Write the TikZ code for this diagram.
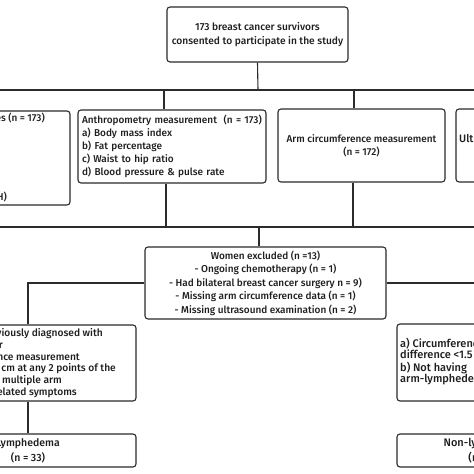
\documentclass[tikz,border=0pt]{standalone}
\usepackage{fontspec}
\IfFontExistsTF{Fira Sans Medium}{\setmainfont{Fira Sans Medium}}{\setmainfont{Liberation Sans}}
\definecolor{linec}{HTML}{2B2B2B}
\definecolor{txtc}{HTML}{1E1E1E}
\begin{document}
\begin{tikzpicture}[x=1pt,y=-1pt,
  box/.style={draw=linec, line width=1.1pt, rounded corners=3pt, inner sep=3pt, text=txtc, font=\fontsize{10}{13}\selectfont},
  txt/.style={inner sep=0pt, text=txtc, font=\fontsize{10}{13}\selectfont},
  crit/.style={inner sep=0pt, text=txtc, font=\fontsize{10.2}{12}\selectfont},
  conn/.style={draw=linec, line width=1.1pt}]
\fill[white] (0,0) rectangle (474,474);
\useasboundingbox (0,0) rectangle (474,474);
\clip (0,0) rectangle (474,474);

% boxes
\node[box, minimum width=181pt, minimum height=55pt, align=center, font=\fontsize{10.2}{14}\selectfont] (top) at (257.5,34.5) {173 breast cancer survivors\\consented to participate in the study};

\node[box, minimum width=200pt, minimum height=94pt] (quest) at (-30,158) {};
\node[txt, anchor=mid east] (q1) at (45,119) {Questionnaires (n = 173)};
\node[txt, anchor=mid east] (q2) at (7,198) {(IPAQ-SH)};

\node[box, minimum width=188pt, minimum height=73pt, text width=180pt, align=left] (anthro) at (172,146.5) {Anthropometry measurement~~(n = 173)\\a) Body mass index\\b) Fat percentage\\c) Waist to hip ratio\\d) Blood pressure \& pulse rate};

\node[box, minimum width=167pt, minimum height=73pt, align=center] (arm) at (361.5,145.5) {Arm circumference measurement\\(n = 172)};

\node[box, minimum width=167pt, minimum height=73pt] (ultra) at (539.5,145.5) {};
\node[txt, anchor=mid west, font=\fontsize{10.8}{13}\selectfont] (ut) at (459,140) {Ultrasound examination};

\node[box, minimum width=241pt, minimum height=72pt, align=center, font=\fontsize{10}{13.5}\selectfont] (excl) at (265.5,283) {Women excluded (n =13)\\- Ongoing chemotherapy (n = 1)\\- Had bilateral breast cancer surgery n = 9)\\- Missing arm circumference data (n = 1)\\- Missing ultrasound examination (n = 2)};

\node[box, minimum width=216pt, minimum height=76pt] (lcrit) at (28,363) {};
\node[crit, anchor=mid east] (l1) at (103,334) {a) Previously diagnosed with};
\node[crit, anchor=mid east] (l2) at (3,346) {lymphedema or};
\node[crit, anchor=mid east] (l3) at (80,357.5) {b) Circumference measurement};
\node[crit, anchor=mid east] (l4) at (116,369) {difference of 2 cm at any 2 points of the};
\node[crit, anchor=mid east] (l5) at (62,381) {arm and having multiple arm};
\node[crit, anchor=mid east] (l6) at (77,393) {lymphedema-related symptoms};

\node[box, minimum width=183pt, minimum height=77pt] (rcrit) at (488.5,362.5) {};
\node[txt, anchor=west, align=left, font=\fontsize{11}{11.5}\selectfont] (rt) at (400,361.5) {a) Circumference measurement\\difference <1.5 cm at any 2 points\\b) Not having\\arm-lymphedema related symptoms};

\node[box, minimum width=216pt, minimum height=33pt, align=center, font=\fontsize{10.5}{15}\selectfont] (lymph) at (28,450.5) {Lymphedema\\(n = 33)};
\node[box, minimum width=183pt, minimum height=33pt, align=center, font=\fontsize{11}{15}\selectfont] (non) at (488.5,450.5) {Non-lymphedema\\(n = 127)};

% connectors
\coordinate (b0) at (258,90);
\coordinate (bl) at (-10,90);
\coordinate (br) at (484,90);
\coordinate (d1) at (164,90);
\coordinate (d2) at (354,90);
\draw[conn] (top.south) -- (b0);
\draw[conn] (bl) -- (br);
\draw[conn] (d1) -- (d1 |- anthro.north);
\draw[conn] (d2) -- (d2 |- arm.north);

\coordinate (u1) at (166,227);
\coordinate (u2) at (353,227);
\coordinate (ul) at (-10,227);
\coordinate (ur) at (484,227);
\coordinate (e0) at (259,227);
\draw[conn] (u1 |- anthro.south) -- (u1);
\draw[conn] (u2 |- arm.south) -- (u2);
\draw[conn] (ul) -- (ur);
\draw[conn] (e0) -- (e0 |- excl.north);

\draw[conn] (excl.west) -| (lcrit.north);
\draw[conn] (excl.east) -| (rcrit.north);
\draw[conn] (lcrit.south) -- (lymph.north);
\draw[conn] (rcrit.south) -- (non.north);
\end{tikzpicture}
\end{document}
